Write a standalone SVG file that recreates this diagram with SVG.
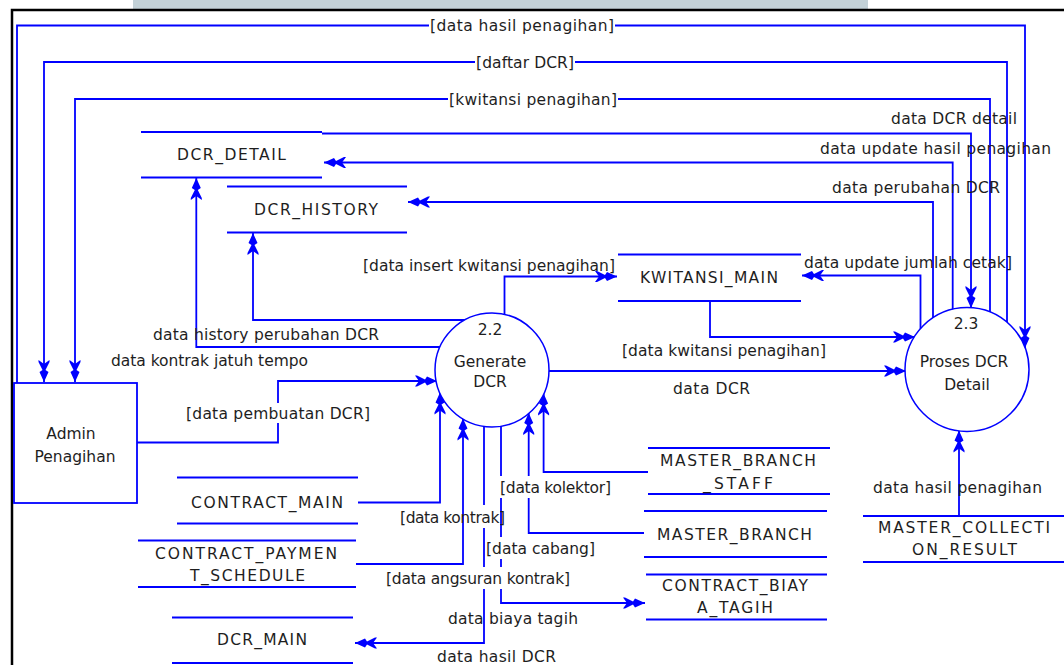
<svg xmlns="http://www.w3.org/2000/svg" width="1064" height="665" viewBox="0 0 1064 665">
<style>
.cn{fill:none;stroke:#0000ff;stroke-width:1.8;marker-end:url(#arr)}
.sl{stroke:#0000ff;stroke-width:1.8}
.pr{fill:#fff;stroke:#0000ff;stroke-width:1.5}
.ent{fill:#fff;stroke:#0000ff;stroke-width:1.8}
text{font-family:"DejaVu Sans",Verdana,sans-serif;font-size:15.5px;fill:#1e1e1e}
.c{text-anchor:middle}
</style>
<defs>
<marker id="arr" viewBox="-23 -6 24 12" refX="0" refY="0" markerWidth="24" markerHeight="12" markerUnits="userSpaceOnUse" orient="auto">
<path d="M0,0 L-10,-4.5 L-12,-1.5 L-20,-5.5 L-22,-5.5 L-18,0 L-22,5.5 L-20,5.5 L-12,1.5 L-10,4.5 Z" fill="#0000ff"/>
</marker>
</defs>
<rect width="1064" height="665" fill="#fff"/>
<rect x="133" y="0" width="735" height="9" fill="#c3d1d7"/>
<path d="M12,665 V10 H1064" fill="none" stroke="#000" stroke-width="2.5"/>

<g id="connectors">
<path class="cn" d="M17,383 V25.5 H429 M615,25.5 H1025 V348"/>
<path class="cn" d="M1007,323 V62 H575 M475,62 H44 V382"/>
<path class="cn" d="M990,313 V99 H618 M448,99 H75 V382"/>
<path class="cn" d="M322,133.5 H971 V308"/>
<path class="cn" d="M952.7,310 V162.5 H324"/>
<path class="cn" d="M933,319 V202 H408"/>
<path class="cn" d="M920.5,329 V275.5 H802"/>
<path class="cn" d="M710,301 V337 H915"/>
<path class="cn" d="M547,371 H906"/>
<path class="cn" d="M504.5,316 V276.5 H617"/>
<path class="cn" d="M466,320 H253 V233"/>
<path class="cn" d="M441,347 H196.3 V178"/>
<path class="cn" d="M137,442.5 H278 V423 M278,403 V381 H437"/>
<path class="cn" d="M358,502.5 H440 V392.5"/>
<path class="cn" d="M356,564 H463 V418.5"/>
<path class="cn" d="M484,425 V505 M484,528 V567 M484,589 V643 H355"/>
<path class="cn" d="M501,425 V476 M501,498 V537 M501,559 V567 M501,589 V603 H645"/>
<path class="cn" d="M644,533 H528.7 V498 M528.7,476 V413"/>
<path class="cn" d="M648,472 H543.6 V393.5"/>
<path class="cn" d="M959,516 V430.5"/>
</g>

<g id="admin">
<rect class="ent" x="14" y="383" width="123" height="120"/>
<text x="71" y="438.5" class="c">Admin</text>
<text x="75" y="461.5" class="c">Penagihan</text>
</g>
<g id="p22">
<circle class="pr" cx="492" cy="370" r="57"/>
<text x="490" y="334.5" class="c">2.2</text>
<text x="490" y="366.5" class="c">Generate</text>
<text x="490" y="386.5" class="c">DCR</text>
</g>
<g id="p23">
<circle class="pr" cx="967" cy="369.5" r="62"/>
<text x="966" y="328.5" class="c">2.3</text>
<text x="964" y="366.5" class="c">Proses DCR</text>
<text x="967" y="389.5" class="c">Detail</text>
</g>
<g id="dcr_detail">
<line class="sl" x1="141" y1="132" x2="322" y2="132"/>
<line class="sl" x1="141" y1="177.5" x2="322" y2="177.5"/>
<text x="177" y="159.5" textLength="109" lengthAdjust="spacing">DCR_DETAIL</text>
</g>
<g id="dcr_history">
<line class="sl" x1="227" y1="186.5" x2="407" y2="186.5"/>
<line class="sl" x1="227" y1="232.5" x2="407" y2="232.5"/>
<text x="254" y="214.5" textLength="124" lengthAdjust="spacing">DCR_HISTORY</text>
</g>
<g id="kwitansi_main">
<line class="sl" x1="618" y1="254.5" x2="801" y2="254.5"/>
<line class="sl" x1="618" y1="301" x2="801" y2="301"/>
<text x="640" y="282.5" textLength="138" lengthAdjust="spacing">KWITANSI_MAIN</text>
</g>
<g id="contract_main">
<line class="sl" x1="177" y1="477.5" x2="358" y2="477.5"/>
<line class="sl" x1="177" y1="523.5" x2="358" y2="523.5"/>
<text x="191" y="507.5" textLength="152" lengthAdjust="spacing">CONTRACT_MAIN</text>
</g>
<g id="contract_payment_schedule">
<line class="sl" x1="138" y1="540.5" x2="356" y2="540.5"/>
<line class="sl" x1="138" y1="587" x2="356" y2="587"/>
<text x="155" y="558.5" textLength="182" lengthAdjust="spacing">CONTRACT_PAYMEN</text>
<text x="190" y="580.5" textLength="115" lengthAdjust="spacing">T_SCHEDULE</text>
</g>
<g id="dcr_main">
<line class="sl" x1="172" y1="617.5" x2="353" y2="617.5"/>
<line class="sl" x1="172" y1="663" x2="353" y2="663"/>
<text x="217" y="644.5" textLength="90" lengthAdjust="spacing">DCR_MAIN</text>
</g>
<g id="master_branch_staff">
<line class="sl" x1="648" y1="448" x2="830" y2="448"/>
<line class="sl" x1="648" y1="494" x2="830" y2="494"/>
<text x="660" y="465.5" textLength="156" lengthAdjust="spacing">MASTER_BRANCH</text>
<text x="703" y="488.5" textLength="70" lengthAdjust="spacing">_STAFF</text>
</g>
<g id="master_branch">
<line class="sl" x1="644" y1="511" x2="827" y2="511"/>
<line class="sl" x1="644" y1="557" x2="827" y2="557"/>
<text x="657" y="539.5" textLength="155" lengthAdjust="spacing">MASTER_BRANCH</text>
</g>
<g id="contract_biaya_tagih">
<line class="sl" x1="646" y1="574.5" x2="827" y2="574.5"/>
<line class="sl" x1="646" y1="619.5" x2="827" y2="619.5"/>
<text x="662" y="590.5" textLength="146" lengthAdjust="spacing">CONTRACT_BIAY</text>
<text x="697" y="612.5" textLength="76" lengthAdjust="spacing">A_TAGIH</text>
</g>
<g id="master_collection_result">
<line class="sl" x1="863" y1="516" x2="1064" y2="516"/>
<line class="sl" x1="863" y1="562" x2="1064" y2="562"/>
<text x="878" y="532.5" textLength="172" lengthAdjust="spacing">MASTER_COLLECTI</text>
<text x="912" y="554.5" textLength="105" lengthAdjust="spacing">ON_RESULT</text>
</g>

<g id="labels">
<text x="430" y="30.5" textLength="184" lengthAdjust="spacing">[data hasil penagihan]</text>
<text x="476" y="67.5" textLength="98" lengthAdjust="spacing">[daftar DCR]</text>
<text x="449" y="104.5" textLength="168" lengthAdjust="spacing">[kwitansi penagihan]</text>
<text x="891" y="123.5" textLength="126" lengthAdjust="spacing">data DCR detail</text>
<text x="820" y="153.5" textLength="231" lengthAdjust="spacing">data update hasil penagihan</text>
<text x="832" y="192.5" textLength="168" lengthAdjust="spacing">data perubahan DCR</text>
<text x="363" y="270.5" textLength="252" lengthAdjust="spacing">[data insert kwitansi penagihan]</text>
<text x="804" y="268" textLength="208" lengthAdjust="spacing">data update jumlah cetak]</text>
<text x="153" y="339.5" textLength="226" lengthAdjust="spacing">data history perubahan DCR</text>
<text x="111" y="366" textLength="197" lengthAdjust="spacing">data kontrak jatuh tempo</text>
<text x="622" y="355.5" textLength="204" lengthAdjust="spacing">[data kwitansi penagihan]</text>
<text x="673" y="393.5" textLength="77" lengthAdjust="spacing">data DCR</text>
<text x="186" y="418.5" textLength="184" lengthAdjust="spacing">[data pembuatan DCR]</text>
<text x="500" y="492.5" textLength="111" lengthAdjust="spacing">[data kolektor]</text>
<text x="400" y="522.5" textLength="105" lengthAdjust="spacing">[data kontrak]</text>
<text x="486" y="553.5" textLength="109" lengthAdjust="spacing">[data cabang]</text>
<text x="386" y="583.5" textLength="184" lengthAdjust="spacing">[data angsuran kontrak]</text>
<text x="448" y="623.5" textLength="130" lengthAdjust="spacing">data biaya tagih</text>
<text x="437" y="662" textLength="119" lengthAdjust="spacing">data hasil DCR</text>
<text x="873" y="492.5" textLength="169" lengthAdjust="spacing">data hasil penagihan</text>
</g>
</svg>
